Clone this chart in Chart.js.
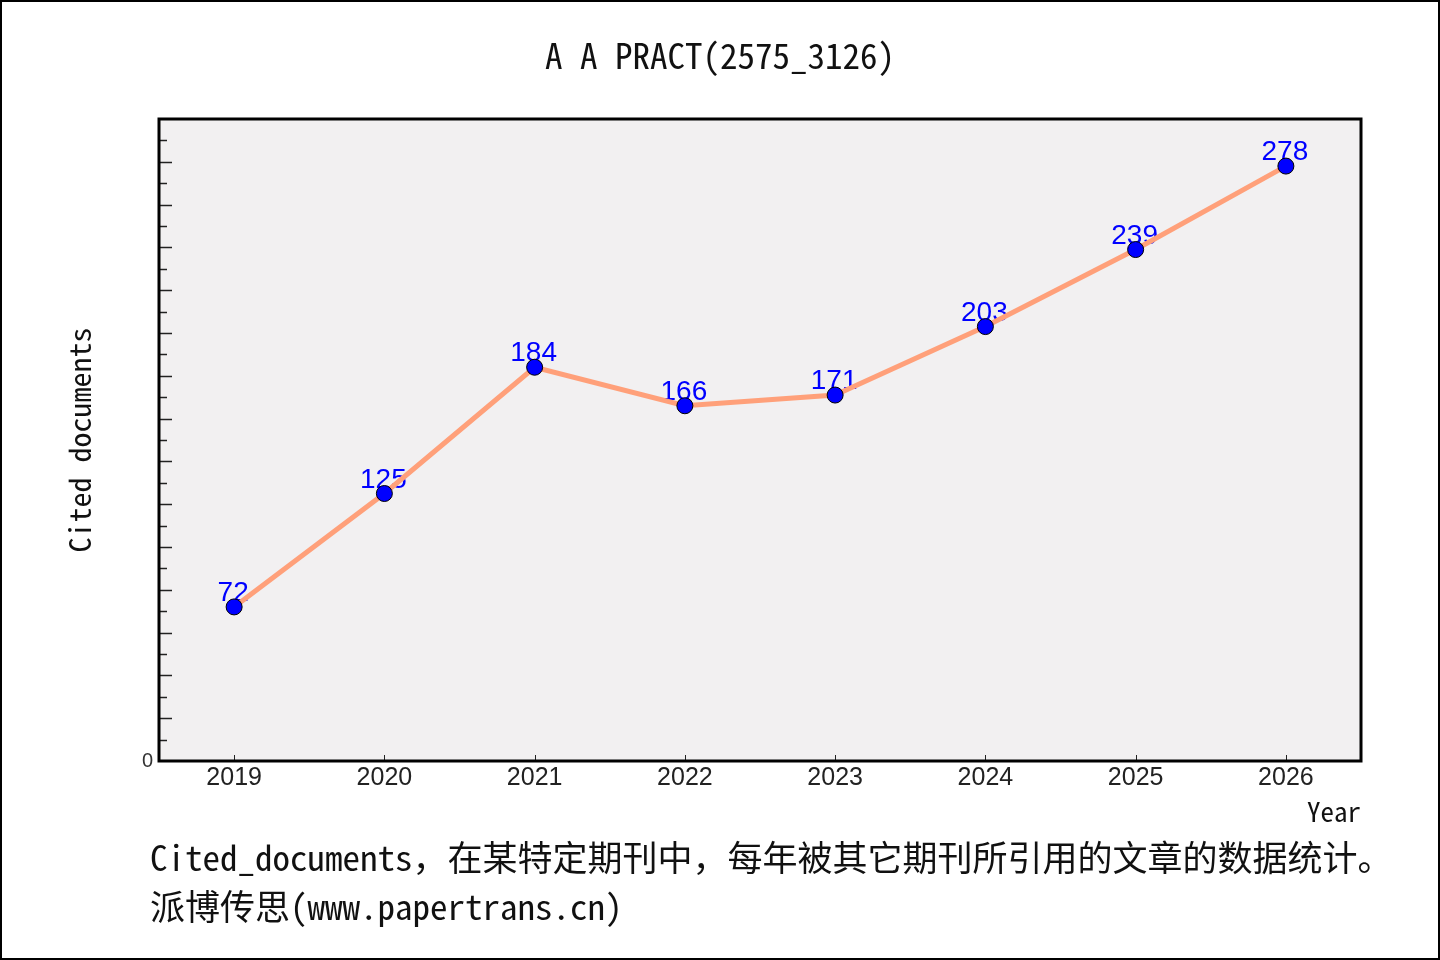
<!DOCTYPE html>
<html>
<head>
<meta charset="utf-8">
<script src="https://cdn.jsdelivr.net/npm/chart.js@4.4.1/dist/chart.umd.min.js"></script>
<style>
  html, body { margin: 0; padding: 0; background: #fff; }
  #wrap { width: 1440px; height: 960px; position: relative; }
</style>
</head>
<body>
<div id="wrap"><canvas id="myChart"></canvas></div>
<script>
const years = ['2019', '2020', '2021', '2022', '2023', '2024', '2025', '2026']
const cited = [72, 125, 184, 166, 171, 203, 239, 278]

const titulo = 'A A PRACT(2575_3126)'
const pie1 = 'Cited_documents，在某特定期刊中，每年被其它期刊所引用的文章的数据统计。'
const pie2 = '派博传思(www.papertrans.cn)'

const mono = "'Noto Sans Mono CJK SC', 'Noto Sans CJK SC', monospace"

// fondo, marco, rayitas y textos sueltos
const decor = {
    id: 'decor',
    beforeDraw(chart) {
        const c = chart.ctx
        const a = chart.chartArea
        c.save()
        c.fillStyle = '#fff'
        c.fillRect(0, 0, chart.width, chart.height)
        c.fillStyle = '#f2f0f1'
        c.fillRect(a.left, a.top, a.right - a.left, a.bottom - a.top)
        c.restore()
    },
    beforeDatasetsDraw(chart) {
        // etiquetas debajo de la linea
        const c = chart.ctx
        const meta = chart.getDatasetMeta(0)
        c.save()
        c.font = '28px "Liberation Sans", Arial, sans-serif'
        c.fillStyle = '#0000ff'
        c.textAlign = 'center'
        c.textBaseline = 'alphabetic'
        meta.data.forEach((p, i) => {
            c.fillText(String(cited[i]), p.x - 1, p.y - 6)
        })
        c.restore()
    },
    afterDraw(chart) {
        const c = chart.ctx
        const a = chart.chartArea
        const y = chart.scales.y
        const x = chart.scales.x
        c.save()
        // rayitas del eje y hacia adentro
        c.strokeStyle = '#222'
        c.lineWidth = 1.5
        y.ticks.forEach(t => {
            if (t.value <= 0 || t.value >= 300) return
            const py = Math.round(y.getPixelForValue(t.value)) + 0.5
            const len = t.value % 20 === 0 ? 13 : 8
            c.beginPath()
            c.moveTo(a.left, py)
            c.lineTo(a.left + len, py)
            c.stroke()
        })
        c.lineWidth = 1
        years.forEach((yr, i) => {
            const px = Math.round(x.getPixelForValue(i)) + 0.5
            c.beginPath()
            c.moveTo(px, a.bottom)
            c.lineTo(px, a.bottom - 6)
            c.stroke()
        })
        // marco
        c.strokeStyle = '#000'
        c.lineWidth = 3
        c.strokeRect(a.left, a.top, a.right - a.left, a.bottom - a.top)
        c.lineWidth = 2
        c.strokeRect(1, 1, chart.width - 2, chart.height - 2)
        // titulo y pie
        c.fillStyle = '#111'
        c.textBaseline = 'middle'
        c.font = '35px ' + mono
        c.textAlign = 'center'
        c.fillText(titulo, 720, 56)
        c.textAlign = 'left'
        c.fillText(pie1, 150, 858)
        c.fillText(pie2, 150, 907)
        c.restore()
    }
}

const ctx = document.getElementById('myChart')

const myChart = new Chart(ctx, {
    type: 'line',
    data: {
        labels: years,
        datasets: [{
            label: 'Cited documents',
            data: cited,
            borderColor: '#ffa07a',
            borderWidth: 5,
            pointRadius: 8,
            pointHoverRadius: 8,
            pointBackgroundColor: '#0000ff',
            pointBorderColor: '#000',
            pointBorderWidth: 1,
            tension: 0
        }]
    },
    options: {
        responsive: true,
        maintainAspectRatio: false,
        devicePixelRatio: 1,
        animation: false,
        events: [],
        layout: { padding: { top: 119, right: 79, left: 0, bottom: 129 } },
        plugins: {
            legend: { display: false },
            tooltip: { enabled: false }
        },
        scales: {
            x: {
                type: 'category',
                offset: true,
                grid: { display: false, drawTicks: false },
                border: { display: false },
                ticks: {
                    color: '#222',
                    padding: 2,
                    maxRotation: 0,
                    font: { family: '"Liberation Sans", Arial, sans-serif', size: 25 }
                },
                title: {
                    display: true,
                    text: 'Year',
                    align: 'end',
                    color: '#111',
                    padding: { top: 0, bottom: 3 },
                    font: { family: mono, size: 27 }
                },
                afterFit(s) { s.height = 70 }
            },
            y: {
                min: 0,
                max: 300,
                grid: { display: false, drawTicks: false },
                border: { display: false },
                ticks: {
                    stepSize: 10,
                    autoSkip: false,
                    padding: 6,
                    color: '#333',
                    font: { family: '"Liberation Sans", Arial, sans-serif', size: 20 },
                    callback: v => v === 0 ? '0' : ''
                },
                title: {
                    display: true,
                    text: 'Cited documents',
                    color: '#111',
                    padding: { top: 62, bottom: 0 },
                    font: { family: mono, size: 30 }
                },
                afterFit(s) { s.width = 159 }
            }
        }
    },
    plugins: [decor]
})
</script>
</body>
</html>
